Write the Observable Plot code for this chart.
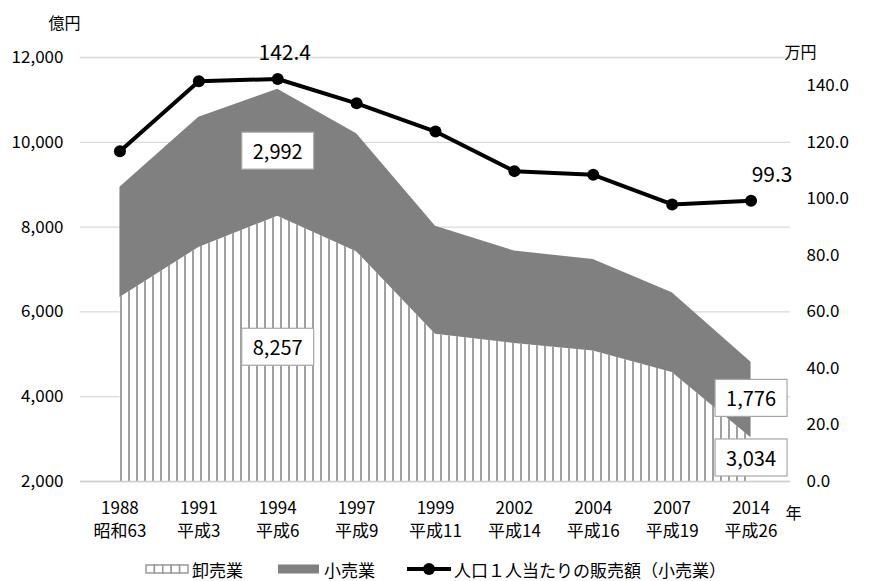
<!DOCTYPE html>
<html><head><meta charset="utf-8">
<script src="https://cdn.jsdelivr.net/npm/d3@7"></script>
<script src="https://cdn.jsdelivr.net/npm/@observablehq/plot@0.6"></script>
<style>
html,body{margin:0;background:#fff;overflow:hidden;}
body{font-family:"Noto Sans CJK JP","Noto Sans",sans-serif;color:#000;}
#chart{width:871px;}
.legend{display:flex;justify-content:center;align-items:center;height:36px;padding-top:6px;font-size:17px;width:871px;}
.legend .item{display:flex;align-items:center;}
.legend svg{display:block;}
</style></head><body>
<div id="chart"></div>
<div class="legend" id="legend"></div>
<script>
// ---- data ----
const years = ["1988","1991","1994","1997","1999","2002","2004","2007","2014"];
const eras = ["昭和63","平成3","平成6","平成9","平成11","平成14","平成16","平成19","平成26"];
const wholesale = [6340, 7520, 8257, 7420, 5475, 5255, 5080, 4570, 3034];   // 卸売業 (億円)
const retail    = [2600, 3070, 2992, 2780, 2545, 2180, 2155, 1880, 1776];   // 小売業 (億円)
const perCapita = [116.8, 141.6, 142.4, 133.8, 123.8, 109.8, 108.5, 98.0, 99.3]; // 万円
const leftTicks = [2000, 4000, 6000, 8000, 10000, 12000];
const rightTicks = [0, 20, 40, 60, 80, 100, 120, 140];
const boxedYears = ["1994", "2014"];
const seriesNames = ["卸売業", "小売業", "人口１人当たりの販売額（小売業）"];

// ---- scales mapping ----
const yMin = 2000, yMax = 12000, rMax = 150;
const toLeft = v => yMin + v * (yMax - yMin) / rMax;
const fromLeft = y => (y - yMin) * rMax / (yMax - yMin);
const eraOf = Object.fromEntries(years.map((y, i) => [y, eras[i]]));
const data = years.map((y, i) => ({year: y, w: wholesale[i], r: retail[i], p: perCapita[i]}));
const boxed = data.filter(d => boxedYears.includes(d.year));
const fmt = d3.format(",");

const svg = Plot.plot({
  width: 871,
  height: 545,
  marginLeft: 80,
  marginRight: 81,
  marginTop: 57,
  marginBottom: 64,
  style: {fontFamily: "'Noto Sans CJK JP','Noto Sans',sans-serif", fontSize: "17px", color: "#000", background: "#fff"},
  x: {type: "point", domain: years, padding: 0.5, round: false},
  y: {domain: [yMin, yMax]},
  marks: [
    Plot.gridY(leftTicks, {stroke: "#d9d9d9", strokeOpacity: 1, strokeWidth: 1.3}),
    Plot.areaY(data, {x: "year", y1: yMin, y2: "w", fill: "url(#hatch)"}),
    Plot.areaY(data, {x: "year", y1: "w", y2: d => d.w + d.r, fill: "#808080"}),
    Plot.ruleY([yMin], {stroke: "#d0d0d0", strokeWidth: 1.3}),
    Plot.line(data, {x: "year", y: d => toLeft(d.p), stroke: "#000", strokeWidth: 4}),
    Plot.dot(data, {x: "year", y: d => toLeft(d.p), r: 6, fill: "#000"}),
    Plot.axisY(leftTicks, {anchor: "left", tickSize: 0, tickPadding: 17, tickFormat: d => fmt(d), fontSize: 17, label: null}),
    Plot.axisY(rightTicks.map(toLeft), {anchor: "right", tickSize: 0, tickPadding: 16, textAnchor: "start", tickFormat: d => fromLeft(d).toFixed(1), fontSize: 17, label: null}),
    Plot.axisX({tickSize: 0, tickPadding: 16, tickFormat: d => d + "\n" + eraOf[d], lineHeight: 1.35, fontSize: 17, label: null}),
    // stacked segment labels in boxes
    Plot.text(boxed, {x: "year", y: d => (yMin + d.w) / 2, text: d => fmt(d.w), fontSize: 20, fill: "#000", className: "boxlbl"}),
    Plot.text(boxed, {x: "year", y: d => d.w + d.r / 2, text: d => fmt(d.r), fontSize: 20, fill: "#000", className: "boxlbl"}),
    // per-capita labels
    Plot.text(data.filter(d => d.year === boxedYears[0]), {x: "year", y: d => toLeft(d.p), text: d => d.p.toFixed(1), dy: -26, dx: 7, fontSize: 21}),
    Plot.text(data.filter(d => d.year === boxedYears[1]), {x: "year", y: d => toLeft(d.p), text: d => d.p.toFixed(1), dy: -26, dx: 21, fontSize: 21}),
    // unit labels
    Plot.text(["億円"], {frameAnchor: "top-left", lineAnchor: "middle", dx: -32, dy: -34, fontSize: 16}),
    Plot.text(["万円"], {frameAnchor: "top-right", lineAnchor: "middle", dx: 26, dy: -5, fontSize: 16}),
    Plot.text(["年"], {frameAnchor: "bottom-right", lineAnchor: "middle", dx: 11, dy: 32, fontSize: 16})
  ]
});

// hatch pattern
const defs = d3.select(svg).insert("defs", ":first-child");
const pat = defs.append("pattern").attr("id", "hatch").attr("patternUnits", "userSpaceOnUse")
  .attr("width", 8).attr("height", 8);
pat.append("rect").attr("width", 8).attr("height", 8).attr("fill", "#fff");
pat.append("rect").attr("x", 0).attr("width", 2).attr("height", 8).attr("fill", "#a0a0a0");

document.getElementById("chart").appendChild(svg);

// boxes behind labelled values
d3.select(svg).selectAll(".boxlbl text").each(function() {
  const b = this.getBBox();
  const padX = 11, padY = 4;
  d3.select(this.parentNode).insert("rect", () => this)
    .attr("x", b.x - padX).attr("y", b.y - padY)
    .attr("width", b.width + 2 * padX).attr("height", b.height + 2 * padY)
    .attr("transform", this.getAttribute("transform"))
    .attr("fill", "#fff").attr("stroke", "#a6a6a6").attr("stroke-width", 1.2);
});

// legend
const lg = d3.select("#legend");
function item(drawFn, label, gapAfter) {
  const it = lg.append("div").attr("class", "item").style("margin-right", gapAfter + "px");
  const s = it.append("svg").attr("width", 44).attr("height", 16);
  drawFn(s);
  it.append("span").style("margin-left", "3px").text(label);
}
item(s => {
  for (let i = 0; i < 5; i++) {
    s.append("rect").attr("x", 1 + i * 8.4).attr("y", 4).attr("width", 8.4).attr("height", 8)
      .attr("fill", "#fff").attr("stroke", "#999").attr("stroke-width", 1.5);
  }
}, seriesNames[0], 34);
item(s => {
  s.append("rect").attr("x", 1).attr("y", 3.5).attr("width", 41).attr("height", 9).attr("fill", "#808080");
}, seriesNames[1], 32);
item(s => {
  s.append("line").attr("x1", 0).attr("x2", 44).attr("y1", 8).attr("y2", 8).attr("stroke", "#000").attr("stroke-width", 4);
  s.append("circle").attr("cx", 22).attr("cy", 8).attr("r", 6).attr("fill", "#000");
}, seriesNames[2], 0);
</script>
</body></html>
